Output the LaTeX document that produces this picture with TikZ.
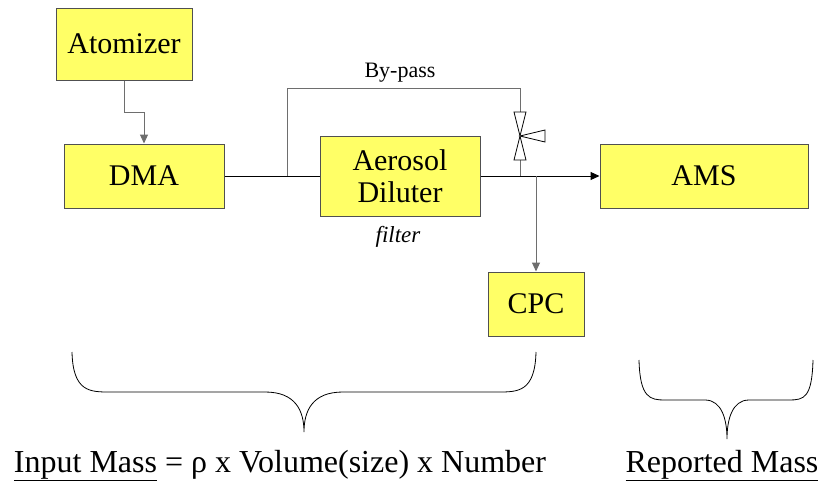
\documentclass[tikz,border=0pt]{standalone}
\usepackage{fontspec}
\setmainfont{Liberation Serif}
\usepackage{xcolor}
\usepackage{tikz}
\usetikzlibrary{positioning,arrows.meta,calc}
\definecolor{boxyellow}{RGB}{255,255,102}
\definecolor{edgegray}{RGB}{80,80,80}
\definecolor{pipegray}{RGB}{110,110,110}
\tikzset{
  unit-box/.style={draw=edgegray, fill=boxyellow, line width=1pt,
    align=center, inner sep=0pt, font=\fontsize{30}{32}\selectfont},
  main-line/.style={line width=1pt, draw=black},
  pipe-line/.style={line width=1pt, draw=pipegray},
  flow-arrow/.style={-{Triangle[length=9pt, width=8pt]}, line width=1pt, draw=black},
  side-arrow/.style={-{Triangle[length=9pt, width=8pt]}, line width=1pt, draw=pipegray},
  valve-part/.style={draw=black, line width=0.8pt, fill=white},
  brace-line/.style={line width=0.8pt, draw=black},
  mass-label/.style={font=\fontsize{32}{36}\selectfont, anchor=base}
}
\begin{document}
\begin{tikzpicture}[x=1pt, y=-1pt]
\useasboundingbox (0,0) rectangle (823,485);

% Instruments
\node[unit-box, minimum width=136pt, minimum height=72pt] (atom) at (124,44) {Atomizer};
\node[unit-box, minimum width=160pt, minimum height=64pt] (dma) at (144,176) {DMA};
\node[unit-box, minimum width=160pt, minimum height=80pt] (dil) at (400,176) {Aerosol\\Diluter};
\node[unit-box, minimum width=208pt, minimum height=64pt] (ams) at (704,176) {AMS};
\node[unit-box, minimum width=96pt, minimum height=64pt] (cpc) at (536,304) {CPC};

% Junctions and valve
\coordinate (byp) at (287,176);
\coordinate (vtop) at (520,112);
\coordinate (vmid) at (520,136);
\coordinate (vbot) at (520,160);
\coordinate (vjoin) at (520,176);
\coordinate (split) at (536,176);

% Flow lines
\draw[side-arrow] (atom.south) -- ++(0,32) -| (dma.north);
\draw[main-line] (dma.east) -- (dil.west);
\draw[pipe-line] (byp) -- ++(0,-88) -| (vtop);
\draw[pipe-line] (vbot) -- (vjoin);
\draw[flow-arrow] (dil.east) -- (ams.west);
\draw[side-arrow] (split) -- (cpc.north);

% Valve
\draw[valve-part] ($(vtop)+(-6,0)$) -- ($(vtop)+(6,0)$) -- ($(vbot)+(-6,0)$) -- ($(vbot)+(6,0)$) -- cycle;
\draw[valve-part] (vmid) -- ++(25,-6) -- ++(0,12) -- cycle;

% Labels
\node[font=\fontsize{22}{24}\selectfont] (bypass) at (400,73) {By-pass};
\node[font=\fontsize{23}{25}\selectfont\itshape] (filter) at (398,237) {filter};

% Braces
\draw[brace-line] (72,352) .. controls (73,392) and (90,392) .. (110,392) -- (265,392)
  .. controls (295,392) and (304,410) .. (304,432)
  .. controls (304,410) and (313,392) .. (343,392) -- (498,392)
  .. controls (518,392) and (535,392) .. (536,352);
\draw[brace-line] (639,360) .. controls (640,398) and (650,400) .. (665,400) -- (705,400)
  .. controls (722,400) and (727,420) .. (727,439)
  .. controls (727,420) and (732,400) .. (749,400) -- (789,400)
  .. controls (804,400) and (812,398) .. (813,360);

% Mass labels
\node[mass-label] (input) at (280,472) {\underline{Input Mass} = ρ x Volume(size) x Number};
\node[mass-label] (reported) at (722,472) {\underline{Reported Mass}};
\end{tikzpicture}
\end{document}
